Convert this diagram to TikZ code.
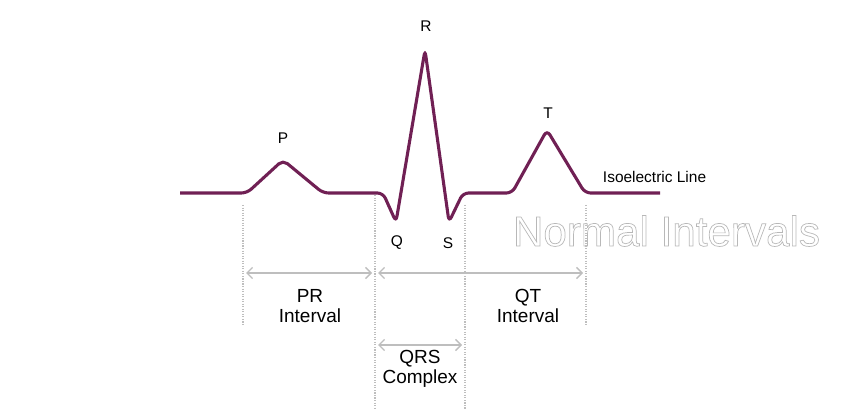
\documentclass[tikz,border=0pt]{standalone}
\usepackage{fontspec}
\setmainfont{Liberation Sans}
\usetikzlibrary{arrows.meta}
\definecolor{ecg}{RGB}{112,32,84}
\definecolor{guide}{RGB}{190,190,190}
\newcommand{\outlined}[1]{\special{pdf:code q 1 Tr 0.5 w 0.72 0.72 0.72 RG}#1\special{pdf:code Q}}
\begin{document}
\begin{tikzpicture}[x=0.025cm, y=-0.025cm,
    wave/.style={ecg, line width=2.2pt, rounded corners=4pt},
    guideline/.style={guide, densely dotted, line width=0.8pt},
    span/.style={{Straight Barb[length=4pt]}-{Straight Barb[length=4pt]}, guide, line width=0.9pt},
    peak/.style={font=\fontsize{11}{13}\selectfont},
    label/.style={align=center, font=\fontsize{13.5}{14}\selectfont}
]
\useasboundingbox (0,0) rectangle (850,419);

% Wave
\coordinate (start) at (180,193);
\coordinate (end) at (660,193);
\draw[wave] (start) -- (247,193) -- (283,160) -- (323,193) -- (383,193) -- (396,222)
  -- (425,50) -- (449,222) -- (463,193) -- (512,193) -- (547,130) -- (585,193) -- (end);

% Peak labels
\node[peak] (P) at (283,138) {P};
\node[peak] (R) at (426,26) {R};
\node[peak] (T) at (548,113) {T};
\node[peak] (Q) at (397,243) {Q};
\node[peak] (S) at (448,243) {S};
\node[peak, anchor=west] (iso) at (598,177) {Isoelectric Line};
\node[anchor=west, font=\fontsize{30}{30}\selectfont] (title) at (508,231) {\outlined{Normal Intervals}};

% Guides
\coordinate (g1t) at (243,205); \coordinate (g1b) at (243,325);
\coordinate (g2t) at (375,195); \coordinate (g2b) at (375,410);
\coordinate (g3t) at (465,205); \coordinate (g3b) at (465,410);
\coordinate (g4t) at (586,205); \coordinate (g4b) at (586,325);
\foreach \g in {1,...,4}
  \draw[guideline] (g\g t) -- (g\g b);

% Intervals
\coordinate (pr1) at (246,273); \coordinate (pr2) at (372,273);
\coordinate (qt1) at (378,273); \coordinate (qt2) at (583,273);
\coordinate (qrs1) at (378,345); \coordinate (qrs2) at (462,345);
\draw[span] (pr1) -- (pr2);
\draw[span] (qt1) -- (qt2);
\draw[span] (qrs1) -- (qrs2);
\node[label] (PR) at (310,306) {PR\\Interval};
\node[label] (QT) at (528,306) {QT\\Interval};
\node[label] (QRS) at (420,369) {QRS\\Complex};
\end{tikzpicture}
\end{document}
